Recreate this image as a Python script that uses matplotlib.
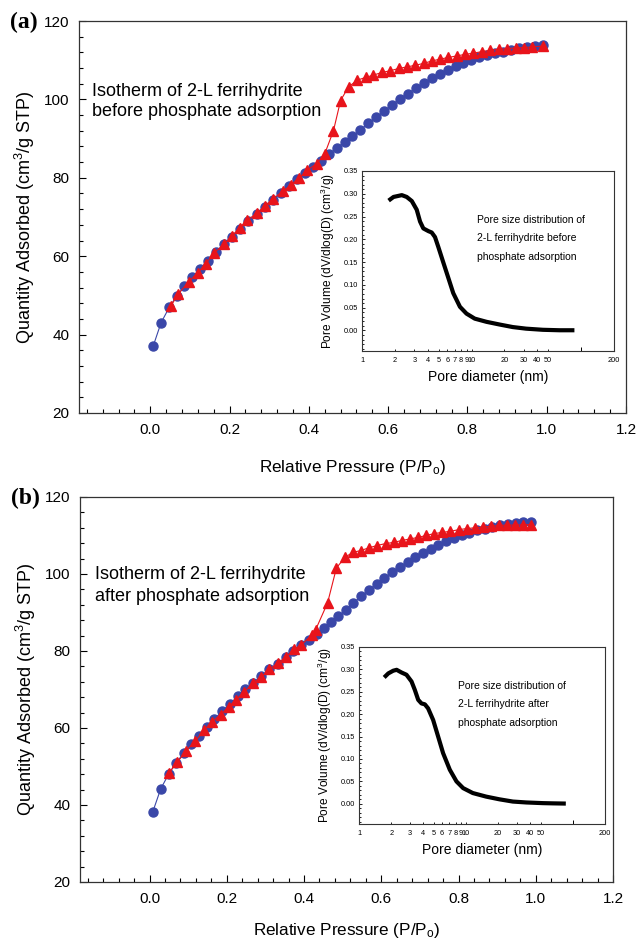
import matplotlib
matplotlib.use("Agg")
import matplotlib.pyplot as plt
from matplotlib.ticker import MultipleLocator, FixedLocator, FormatStrFormatter, NullFormatter

plt.rcParams['font.family'] = ['Liberation Sans', 'DejaVu Sans']
plt.rcParams['mathtext.fontset'] = 'custom'
plt.rcParams['mathtext.rm'] = 'Liberation Sans'
plt.rcParams['mathtext.it'] = 'Liberation Sans:italic'
plt.rcParams['mathtext.bf'] = 'Liberation Sans:bold'

# ---------------- data: panel (a) ----------------
a_ads_p = [0.007, 0.027, 0.048, 0.067, 0.086, 0.105, 0.125, 0.145, 0.165, 0.185,
           0.205, 0.226, 0.247, 0.268, 0.289, 0.310, 0.330, 0.351, 0.371, 0.391,
           0.411, 0.431, 0.450, 0.470, 0.490, 0.510, 0.530, 0.550, 0.570, 0.590,
           0.610, 0.630, 0.650, 0.670, 0.690, 0.710, 0.730, 0.750, 0.770, 0.790,
           0.810, 0.830, 0.850, 0.870, 0.890, 0.910, 0.930, 0.950, 0.970, 0.990]
a_ads_q = [37.0, 43.0, 47.0, 49.9, 52.3, 54.6, 56.7, 58.8, 61.0, 63.0,
           65.0, 67.0, 68.9, 70.8, 72.6, 74.4, 76.2, 77.9, 79.6, 81.2,
           82.8, 84.4, 86.0, 87.6, 89.1, 90.6, 92.2, 93.9, 95.4, 97.1,
           98.6, 100.2, 101.5, 102.9, 104.2, 105.4, 106.6, 107.6, 108.5, 109.3,
           110.0, 110.7, 111.3, 111.8, 112.2, 112.6, 113.0, 113.3, 113.6, 113.9]
a_des_p = [0.052, 0.070, 0.097, 0.120, 0.140, 0.160, 0.185, 0.205, 0.225, 0.245,
           0.270, 0.290, 0.310, 0.335, 0.355, 0.375, 0.395, 0.420, 0.440, 0.462,
           0.480, 0.500, 0.522, 0.543, 0.563, 0.585, 0.605, 0.627, 0.648, 0.668,
           0.690, 0.710, 0.732, 0.752, 0.773, 0.795, 0.815, 0.837, 0.857, 0.880,
           0.900, 0.922, 0.942, 0.963, 0.990]
a_des_q = [47.3, 50.3, 53.5, 55.8, 58.1, 60.7, 63.0, 65.1, 67.2, 69.2,
           71.1, 72.9, 74.7, 76.6, 78.2, 79.9, 81.9, 83.6, 86.1, 92.0,
           99.7, 103.2, 104.9, 105.6, 106.2, 106.9, 107.3, 107.9, 108.3, 108.7,
           109.2, 109.8, 110.3, 110.7, 111.1, 111.5, 111.8, 112.2, 112.5, 112.8,
           112.9, 113.2, 113.2, 113.4, 113.6]
a_psd_d = [1.75, 1.94, 2.31, 2.56, 2.85, 3.16, 3.39, 3.63, 4.04, 4.33, 4.64, 4.98,
           5.53, 6.13, 6.81, 7.84, 9.0, 10.7, 13.7, 18.1, 23.8, 31.5, 44.8, 63.6, 87.0]
a_psd_v = [0.285, 0.293, 0.297, 0.293, 0.284, 0.265, 0.239, 0.224, 0.218, 0.215, 0.205, 0.183,
           0.149, 0.116, 0.082, 0.052, 0.037, 0.026, 0.019, 0.013, 0.0075, 0.004, 0.0015, 0.0005, 0.0005]

# ---------------- data: panel (b) ----------------
b_ads_p = [0.008, 0.029, 0.050, 0.068, 0.089, 0.108, 0.128, 0.148, 0.168, 0.188,
           0.208, 0.228, 0.248, 0.268, 0.289, 0.310, 0.332, 0.353, 0.372, 0.393,
           0.413, 0.433, 0.453, 0.471, 0.489, 0.508, 0.528, 0.548, 0.568, 0.588,
           0.608, 0.628, 0.648, 0.668, 0.688, 0.708, 0.728, 0.748, 0.768, 0.788,
           0.808, 0.828, 0.848, 0.868, 0.888, 0.908, 0.928, 0.948, 0.968, 0.987]
b_ads_q = [38.1, 44.2, 48.1, 50.9, 53.5, 55.8, 58.0, 60.3, 62.3, 64.4,
           66.2, 68.2, 70.0, 71.7, 73.4, 75.2, 76.7, 78.4, 79.9, 81.5,
           82.9, 84.5, 86.0, 87.5, 89.0, 90.7, 92.5, 94.2, 95.8, 97.5,
           99.0, 100.4, 101.7, 103.0, 104.3, 105.5, 106.6, 107.6, 108.5, 109.4,
           110.0, 110.6, 111.3, 111.8, 112.2, 112.6, 113.0, 113.2, 113.4, 113.5]
b_des_p = [0.050, 0.072, 0.095, 0.118, 0.142, 0.162, 0.184, 0.205, 0.224, 0.245,
           0.268, 0.289, 0.310, 0.332, 0.353, 0.374, 0.393, 0.421, 0.430, 0.461,
           0.484, 0.507, 0.526, 0.547, 0.568, 0.589, 0.611, 0.632, 0.653, 0.674,
           0.695, 0.716, 0.737, 0.758, 0.779, 0.800, 0.821, 0.842, 0.863, 0.884,
           0.905, 0.926, 0.947, 0.968, 0.989]
b_des_q = [48.3, 51.1, 54.1, 56.5, 59.6, 61.6, 63.5, 65.5, 67.4, 69.3,
           71.7, 73.2, 75.2, 76.9, 78.4, 80.4, 81.6, 84.2, 85.5, 92.5,
           101.6, 104.4, 105.6, 106.1, 106.8, 107.4, 107.9, 108.2, 108.7, 109.1,
           109.5, 110.0, 110.5, 110.8, 111.1, 111.5, 111.8, 112.0, 112.2, 112.4,
           112.6, 112.7, 112.7, 112.8, 112.8]
b_psd_d = [1.72, 1.88, 2.09, 2.25, 2.50, 2.78, 3.10, 3.33, 3.58, 3.84, 4.13, 4.43, 4.94,
           5.50, 6.12, 7.07, 8.16, 9.42, 11.6, 15.5, 20.6, 27.5, 36.7, 52.4, 65.0, 86.0]
b_psd_v = [0.282, 0.291, 0.297, 0.299, 0.293, 0.288, 0.273, 0.254, 0.232, 0.224, 0.222, 0.213, 0.187,
           0.150, 0.113, 0.076, 0.050, 0.035, 0.024, 0.016, 0.010, 0.005, 0.003, 0.0015, 0.001, 0.0005]

x_ticks = [0.0, 0.2, 0.4, 0.6, 0.8, 1.0, 1.2]
y_ticks = [20, 40, 60, 80, 100, 120]
psd_xticks = [1, 2, 3, 4, 5, 6, 7, 8, 9, 10, 20, 30, 40, 50, 200]
psd_xticklabels = ['1', '2', '3', '4', '5', '6', '7', '8', '9', '10', '20', '30', '40', '50', '200']
psd_minor = [100]
psd_yticks = [0.00, 0.05, 0.10, 0.15, 0.20, 0.25, 0.30, 0.35]

BLUE = '#3a47a8'
RED = '#e8141b'

fig = plt.figure(figsize=(6.39, 9.42), dpi=100)


def make_panel(main_rect, inset_rect, ads_p, ads_q, des_p, des_q, psd_d, psd_v,
               label, iso_lines, iso_x, iso_ys, psd_lines, psd_text_x, psd_text_ys, xpad):
    ax = fig.add_axes(main_rect)
    ax.plot(ads_p, ads_q, '-', color=BLUE, lw=0.8, marker='o', ms=6.5,
            mfc=BLUE, mec=BLUE, zorder=3)
    ax.plot(des_p, des_q, '-', color=RED, lw=0.8, marker='^', ms=7.2,
            mfc=RED, mec=RED, zorder=4)
    ax.set_xlim(-0.18, 1.2)
    ax.set_ylim(20, 120)
    ax.set_xticks(x_ticks)
    ax.set_xticklabels([f'{v:.1f}' for v in x_ticks])
    ax.set_yticks(y_ticks)
    ax.xaxis.set_minor_locator(MultipleLocator(0.04))
    ax.yaxis.set_minor_locator(MultipleLocator(4))
    ax.tick_params(axis='both', which='major', direction='in', length=5, width=0.8,
                   labelsize=11, pad=7, top=False, right=False)
    ax.tick_params(axis='both', which='minor', direction='in', length=3, width=0.8,
                   top=False, right=False)
    for s in ax.spines.values():
        s.set_linewidth(0.9)
        s.set_color('#333333')
    ax.set_xlabel(r'Relative Pressure (P/P$_{\mathrm{o}}$)', fontsize=12.3, labelpad=xpad)
    ax.set_ylabel(r'Quantity Adsorbed (cm$^{3}$/g STP)', fontsize=13, labelpad=5)
    for line, y in zip(iso_lines, iso_ys):
        ax.text(iso_x, y, line, transform=ax.transAxes, fontsize=13,
                va='center_baseline', ha='left')
    fig.text(main_rect[0] - 0.108, main_rect[1] + main_rect[3] - 0.002, label,
             family='Liberation Serif', fontweight='bold', fontsize=17,
             va='center', ha='left')

    ins = fig.add_axes(inset_rect)
    ins.plot(psd_d, psd_v, '-', color='black', lw=3.0, solid_capstyle='butt')
    ins.set_xscale('log')
    ins.set_xlim(1, 200)
    ins.set_ylim(-0.045, 0.35)
    ins.xaxis.set_major_locator(FixedLocator(psd_xticks))
    ins.set_xticklabels(psd_xticklabels)
    ins.xaxis.set_minor_locator(FixedLocator(psd_minor))
    ins.xaxis.set_minor_formatter(NullFormatter())
    ins.set_yticks(psd_yticks)
    ins.yaxis.set_major_formatter(FormatStrFormatter('%.2f'))
    ins.yaxis.set_minor_locator(MultipleLocator(0.01))
    ins.tick_params(axis='x', which='major', direction='in', length=1.5, width=0.6,
                    labelsize=5.3, pad=4, top=False)
    ins.tick_params(axis='x', which='minor', direction='in', length=3, width=0.7, top=False)
    ins.tick_params(axis='y', which='major', direction='in', length=2.5, width=0.6,
                    labelsize=5.3, pad=3, right=False)
    ins.tick_params(axis='y', which='minor', direction='in', length=1.5, width=0.6, right=False)
    for s in ins.spines.values():
        s.set_linewidth(0.8)
        s.set_color('#333333')
    ins.set_xlabel('Pore diameter (nm)', fontsize=10, labelpad=5)
    ins.set_ylabel(r'Pore Volume (dV/dlog(D) (cm$^{3}$/g)', fontsize=8.6, labelpad=5)
    for line, y in zip(psd_lines, psd_text_ys):
        ins.text(psd_text_x, y, line, transform=ins.transAxes, fontsize=7.5,
                 va='center_baseline', ha='left')
    return ax, ins


make_panel([0.1236, 0.5616, 0.856, 0.4161], [0.5665, 0.6274, 0.3944, 0.1911],
           a_ads_p, a_ads_q, a_des_p, a_des_q, a_psd_d, a_psd_v, '(a)',
           ['Isotherm of 2-L ferrihydrite', 'before phosphate adsorption'],
           0.024, [0.824, 0.773],
           ['Pore size distribution of', '2-L ferrihydrite before', 'phosphate adsorption'],
           0.456, [0.733, 0.633, 0.528], 15)

make_panel([0.1252, 0.0637, 0.8341, 0.4087], [0.5618, 0.1253, 0.385, 0.1879],
           b_ads_p, b_ads_q, b_des_p, b_des_q, b_psd_d, b_psd_v, '(b)',
           ['Isotherm of 2-L ferrihydrite', 'after phosphate adsorption'],
           0.028, [0.803, 0.748],
           ['Pore size distribution of', '2-L ferrihydrite after', 'phosphate adsorption'],
           0.402, [0.785, 0.684, 0.576], 11)

fig.savefig('out.png', dpi=100)
